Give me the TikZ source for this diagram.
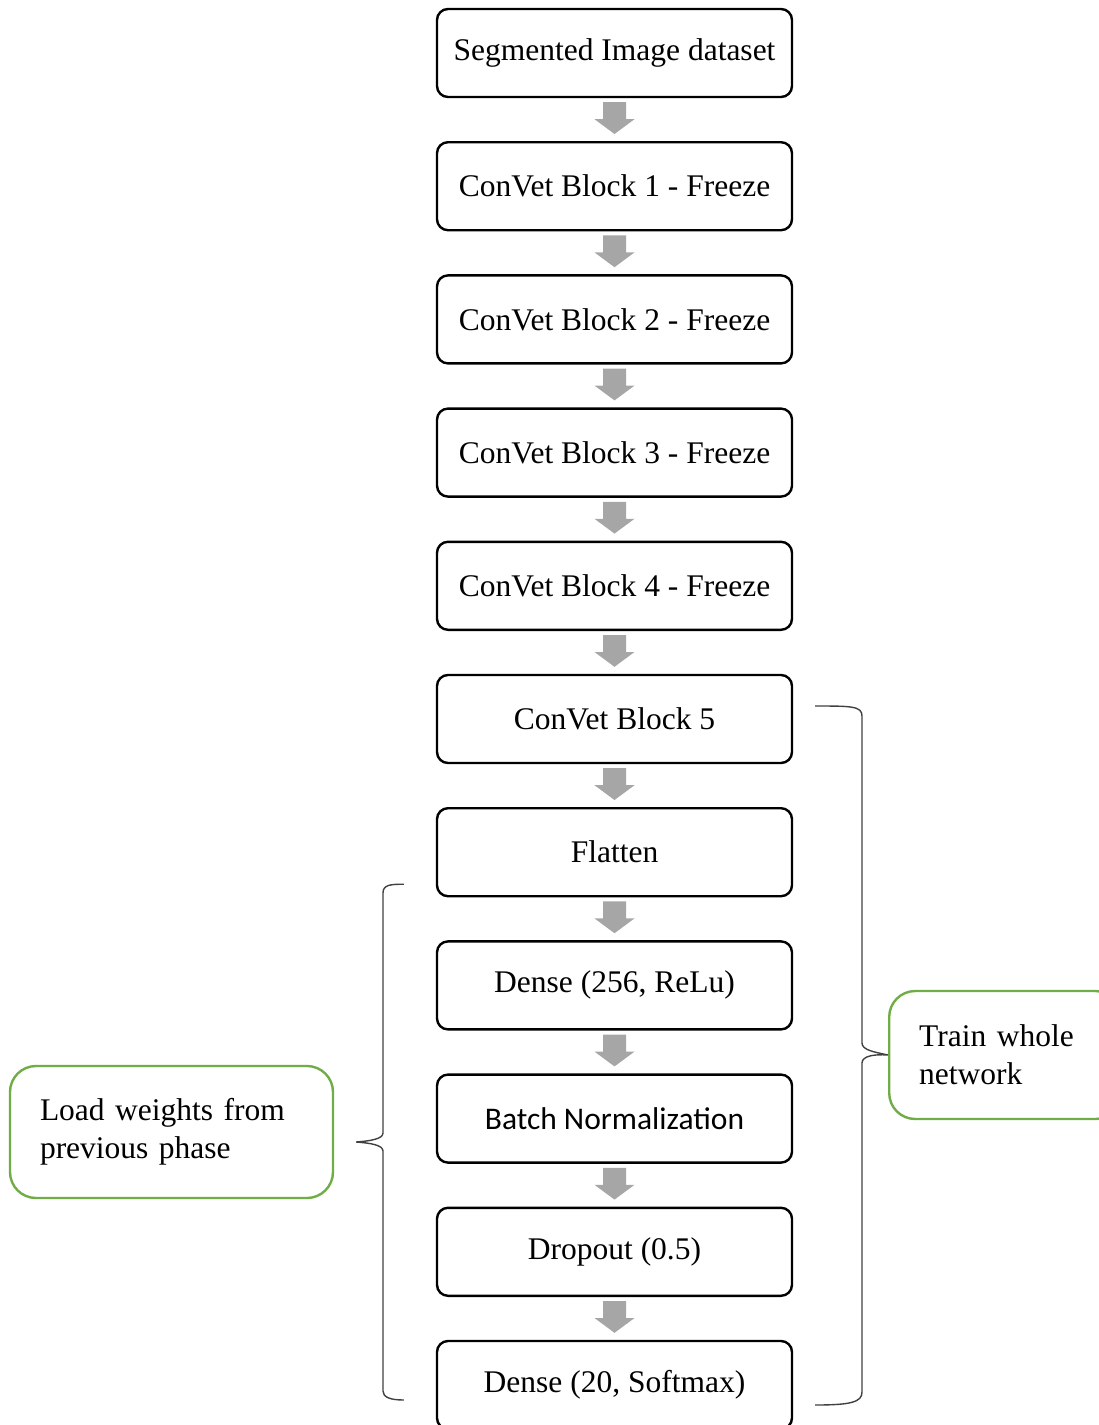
\documentclass[tikz,border=0pt]{standalone}
\usepackage{fontspec}
\setmainfont{Liberation Serif}
\newfontfamily\calibrifont{Carlito}
\usetikzlibrary{calc}

\definecolor{flowgray}{HTML}{A6A6A6}
\definecolor{leafgreen}{HTML}{70AD47}
\definecolor{bracegray}{HTML}{404040}

\begin{document}
\begin{tikzpicture}[x=1pt,y=-1pt,
  layer/.style={draw=black, line width=2.4pt, rounded corners=11pt,
    minimum width=355pt, minimum height=88pt, inner sep=0pt,
    font=\fontsize{31.5}{38}\selectfont},
  note/.style={draw=leafgreen, line width=2.4pt, rounded corners=26pt,
    inner xsep=30pt, inner ysep=0pt, align=left,
    font=\fontsize{31.5}{38}\selectfont},
  flowarrow/.style={fill=flowgray, draw=none},
  bracket/.style={draw=bracegray, line width=1.4pt}]

\useasboundingbox (0,0) rectangle (1099,1425);

% layer stack
\foreach \name/\txt [count=\i from 0] in {
    b1/{Segmented Image dataset},
    b2/{ConVet Block 1 - Freeze},
    b3/{ConVet Block 2 - Freeze},
    b4/{ConVet Block 3 - Freeze},
    b5/{ConVet Block 4 - Freeze},
    b6/{ConVet Block 5},
    b7/{Flatten},
    b8/{Dense (256, ReLu)},
    b9/{{\calibrifont Batch Normalization}},
    b10/{Dropout (0.5)},
    b11/{Dense (20, Softmax)}}
  \node[layer] (\name) at (614.5, 53+133.2*\i) {\txt};

% block arrows between consecutive layers
\foreach \a/\b in {b1/b2,b2/b3,b3/b4,b4/b5,b5/b6,b6/b7,b7/b8,b8/b9,b9/b10,b10/b11}
  \fill[flowarrow]
    ($(\a.south)+(-11.5,4)$) -- ($(\a.south)+(11.5,4)$) --
    ($(\a.south)+(11.5,21)$) -- ($(\a.south)+(20,21)$) --
    ($(\b.north)+(0,-7)$) --
    ($(\a.south)+(-20,21)$) -- ($(\a.south)+(-11.5,21)$) -- cycle;

% annotation boxes
\node[note, text width=263pt, minimum height=132pt] (load) at (171.5,1132)
  {\raisebox{-3pt}{Load weights from}\\\raisebox{-3pt}{previous phase}};
\node[note, text width=172pt, minimum height=128pt, anchor=west] (train) at (888,1055)
  {Train whole\\network};

% right bracket: ConVet Block 5 to the output layer
\coordinate (rtop) at ($(b6.east)+(22,-13)$);
\coordinate (rbot) at ($(b11.east)+(22,20)$);
\draw[bracket] (rtop) .. controls ++(36,0) and (862,706) .. (862,716)
  -- (862,1043) .. controls (862,1050) and (874,1052) .. (train.west)
  .. controls (874,1054) and (862,1056) .. (862,1063)
  -- (862,1392) .. controls (862,1402) and ($(rbot)+(36,0)$) .. (rbot);

% left bracket: Flatten to the output layer
\coordinate (ltop) at ($(b7.west)+(-32,32)$);
\coordinate (lbot) at ($(b11.west)+(-32,15)$);
\coordinate (ltip) at ($(load.east)+(22,10)$);
\draw[bracket] (ltop) .. controls ++(-14,0) and (383,885) .. (383,893)
  -- (383,1133) .. controls (383,1139) and (370,1141) .. (ltip)
  .. controls (370,1143) and (383,1145) .. (383,1151)
  -- (383,1391) .. controls (383,1397) and ($(lbot)+(-14,0)$) .. (lbot);

\end{tikzpicture}
\end{document}
